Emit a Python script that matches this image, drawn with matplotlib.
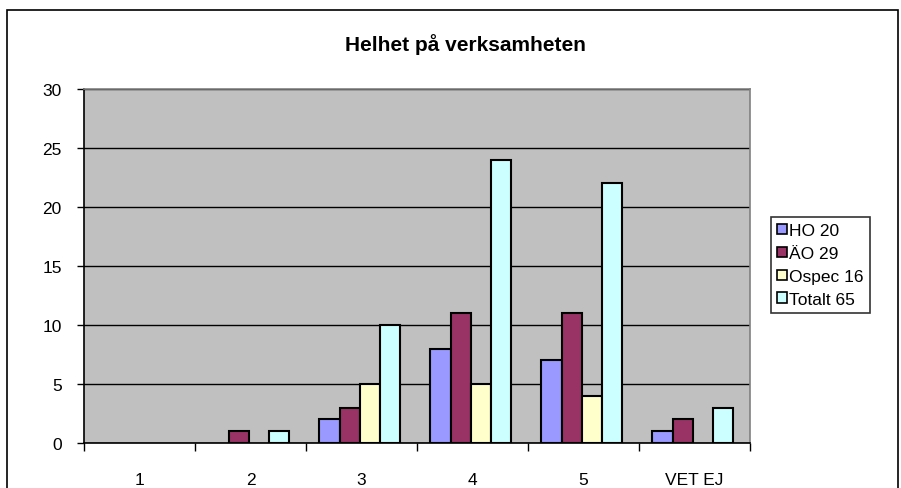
import matplotlib
matplotlib.use("Agg")
import matplotlib.pyplot as plt
from matplotlib.patches import Rectangle
import numpy as np

plt.rcParams['font.family'] = ['Liberation Sans', 'DejaVu Sans']

categories = ["1", "2", "3", "4", "5", "VET EJ"]
series_names = ["HO 20", "ÄO 29", "Ospec 16", "Totalt 65"]
ho = [0, 0, 2, 8, 7, 1]
ao = [0, 1, 3, 11, 11, 2]
ospec = [0, 0, 5, 5, 4, 0]
totalt = [0, 1, 10, 24, 22, 3]
colors = ["#9999FF", "#993366", "#FFFFCC", "#CCFFFF"]
title = "Helhet på verksamheten"

fig = plt.figure(figsize=(9.01, 4.89), dpi=100)
fig.patch.set_facecolor("white")

# outer chart border
fig.patches.append(Rectangle((7/901, -0.05), (898-7)/901, 1.05 - 11/489,
                             transform=fig.transFigure, fill=False,
                             edgecolor="black", lw=1.2))

ax = fig.add_axes([84/901, 45/489, (750-84)/901, (444-90)/489])
ax.set_facecolor("#C0C0C0")

x = np.arange(len(categories))
w = 1/5.5
handles = []
for i, (vals, name, c) in enumerate(zip([ho, ao, ospec, totalt], series_names, colors)):
    vals = np.array(vals)
    lws = [1.5 if v > 0 else 0 for v in vals]
    ax.bar(x + (i - 1.5) * w - 0.015, vals, width=w, color=c, edgecolor="black",
           linewidth=lws, zorder=3)
    handles.append(Rectangle((0, 0), 1, 1, facecolor=c, edgecolor="black", lw=1.2))

ax.set_xlim(-0.5, len(categories) - 0.5)
ax.set_ylim(0, 30)
ax.set_yticks(range(0, 31, 5))
ax.yaxis.grid(True, color="black", lw=1, zorder=1)
ax.set_axisbelow(True)
ax.set_xticks(np.arange(-0.5, len(categories), 1))
ax.set_xticklabels([])
ax.set_xticks(x, minor=True)
ax.set_xticklabels(categories, minor=True)
ax.tick_params(axis="x", which="major", length=6, width=1, direction="out")
ax.tick_params(axis="x", which="minor", length=0, pad=21, labelsize=12.5)
ax.tick_params(axis="y", length=5, width=1, direction="out", labelsize=12.5, pad=11)

for s in ["top", "right"]:
    ax.spines[s].set_color("#808080")
    ax.spines[s].set_linewidth(1.2)
for s in ["left", "bottom"]:
    ax.spines[s].set_color("black")
    ax.spines[s].set_linewidth(1.2)

fig.text(465/901, 1 - 45/489, title, ha="center", va="center",
         fontsize=15, fontweight="bold")

leg = ax.legend(handles, series_names, loc="center left",
                bbox_to_anchor=(771/901, 1 - 266/489),
                bbox_transform=fig.transFigure, frameon=True, fancybox=False,
                edgecolor="black", fontsize=12.5, handlelength=0.55, handleheight=0.55,
                handletextpad=0.15, borderpad=0.35, labelspacing=0.45, borderaxespad=0)
leg.get_frame().set_linewidth(1.2)

fig.savefig("out.png", dpi=100)
